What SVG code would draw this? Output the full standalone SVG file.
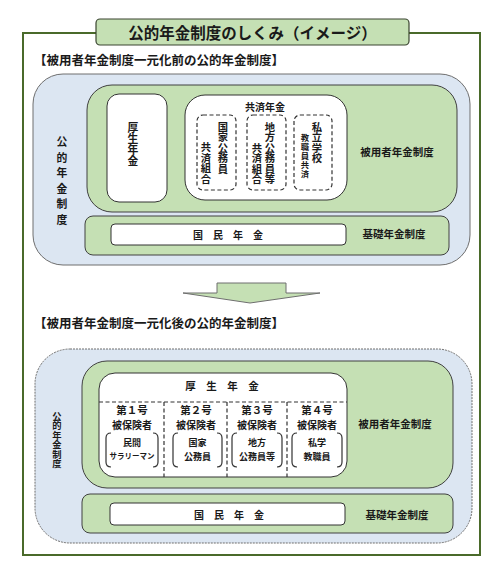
<svg xmlns="http://www.w3.org/2000/svg" width="500" height="582" viewBox="0 0 500 582">
<style>
text{font-family:"Noto Sans CJK JP","Noto Sans CJK SC",sans-serif;font-weight:bold;fill:#1a1a1a;}
.blue{fill:#dce6f2;stroke:#6f6f6f;stroke-width:1;}
.green{fill:#c5e0b4;stroke:#404040;stroke-width:1;}
.white{fill:#ffffff;stroke:#333333;stroke-width:1;}
.dash{fill:none;stroke:#333333;stroke-width:1.2;stroke-dasharray:4 2.5;}
.c{text-anchor:middle;dominant-baseline:central;}
.v{writing-mode:vertical-rl;text-orientation:upright;text-anchor:start;}
.br{fill:none;stroke:#333333;stroke-width:1.2;}
.h1{text-anchor:middle;dominant-baseline:central;font-size:10.5px;}
.h2{text-anchor:middle;dominant-baseline:central;font-size:10px;}
.v11{font-size:10.8px;}
.v10{font-size:10.3px;}
.v8{font-size:8.3px;}
.v9{font-size:9.3px;}
</style>
<rect width="500" height="582" fill="#ffffff"/>
<g id="frame">
<path d="M96,33 H23 V555 H480 V33 H409" fill="none" stroke="#4a6a2a" stroke-width="2"/>
</g>
<g id="title">
<rect x="96" y="19" width="313" height="26" rx="4" fill="#c5e0b4" stroke="#3a4530" stroke-width="1.2"/>
<text class="c" x="252.5" y="32" font-size="15.5">公的年金制度のしくみ（イメージ）</text>
</g>
<text id="subtitle1" x="34" y="65" font-size="12.5">【被用者年金制度一元化前の公的年金制度】</text>
<g id="before">
<rect class="blue" x="33" y="74" width="437" height="191" rx="30"/>
<g id="before-label" class="v v11">
<text class="v" x="62" y="136.6">公</text>
<text class="v" x="62" y="152.1">的</text>
<text class="v" x="62" y="167.6">年</text>
<text class="v" x="62" y="183.1">金</text>
<text class="v" x="62" y="198.6">制</text>
<text class="v" x="62" y="214.1">度</text>
</g>
<g id="before-employee">
<rect class="green" x="87" y="85" width="370" height="127" rx="25"/>
<text class="c" x="397" y="151" font-size="10.5">被用者年金制度</text>
</g>
<g id="before-kosei">
<rect class="white" x="107" y="94" width="60" height="108" rx="12"/>
<g class="v11">
<text class="v" x="133" y="122.6">厚</text>
<text class="v" x="133" y="133.6">生</text>
<text class="v" x="133" y="144.6">年</text>
<text class="v" x="133" y="155.6">金</text>
</g>
</g>
<g id="before-kyosai">
<rect class="white" x="185" y="95" width="162" height="105" rx="20"/>
<text class="c" x="265" y="106" font-size="10">共済年金</text>
<g id="kokka">
<rect class="dash" x="197" y="115" width="39" height="75" rx="6"/>
<g class="v10">
<text class="v" x="223" y="121.85">国</text>
<text class="v" x="223" y="132.35">家</text>
<text class="v" x="223" y="142.85">公</text>
<text class="v" x="223" y="153.35">務</text>
<text class="v" x="223" y="163.85">員</text>
<text class="v" x="206" y="142.35">共</text>
<text class="v" x="206" y="152.85">済</text>
<text class="v" x="206" y="163.35">組</text>
<text class="v" x="206" y="173.85">合</text>
</g>
</g>
<g id="chiho">
<rect class="dash" x="247" y="115" width="39" height="75" rx="6"/>
<g class="v10">
<text class="v" x="270" y="121.85">地</text>
<text class="v" x="270" y="132.35">方</text>
<text class="v" x="270" y="142.85">公</text>
<text class="v" x="270" y="153.35">務</text>
<text class="v" x="270" y="163.85">員</text>
<text class="v" x="270" y="174.35">等</text>
<text class="v" x="257" y="142.85">共</text>
<text class="v" x="257" y="153.35">済</text>
<text class="v" x="257" y="163.85">組</text>
<text class="v" x="257" y="174.35">合</text>
</g>
</g>
<g id="shigaku">
<rect class="dash" x="294" y="115" width="38" height="75" rx="6"/>
<g class="v10">
<text class="v" x="317" y="121.85">私</text>
<text class="v" x="317" y="132.35">立</text>
<text class="v" x="317" y="142.85">学</text>
<text class="v" x="317" y="153.35">校</text>
</g>
<g class="v8">
<text class="v" x="305" y="133.85">教</text>
<text class="v" x="305" y="142.85">職</text>
<text class="v" x="305" y="151.85">員</text>
<text class="v" x="305" y="160.85">共</text>
<text class="v" x="305" y="169.85">済</text>
</g>
</g>
</g>
<g id="before-kiso">
<rect class="green" x="85" y="216" width="364" height="39" rx="8"/>
<rect class="white" x="111" y="224" width="235" height="21" rx="4"/>
<text class="c" x="228" y="234.5" font-size="10" xml:space="preserve">国　民　年　金</text>
<text class="c" x="394" y="233" font-size="10.5">基礎年金制度</text>
</g>
</g>
<g id="connectors">
<polygon points="217,283 286,283 286,293 320,293 250,303 183,293 217,293" fill="#c5e0b4" stroke="#6f6f6f" stroke-width="1"/>
</g>
<text id="subtitle2" x="34" y="328" font-size="12.5">【被用者年金制度一元化後の公的年金制度】</text>
<g id="after">
<rect class="blue" x="35" y="349" width="437" height="194" rx="35" stroke-dasharray="2 1"/>
<g id="after-label" class="v9">
<text class="v" x="57" y="411.35">公</text>
<text class="v" x="57" y="420.85">的</text>
<text class="v" x="57" y="430.35">年</text>
<text class="v" x="57" y="439.85">金</text>
<text class="v" x="57" y="449.35">制</text>
<text class="v" x="57" y="458.85">度</text>
</g>
<g id="after-employee">
<rect class="green" x="82" y="361" width="371" height="127" rx="25"/>
<text class="c" x="395" y="423" font-size="10.5">被用者年金制度</text>
</g>
<g id="after-kosei">
<rect class="white" x="99" y="373" width="248" height="104" rx="16"/>
<text class="c" x="222" y="385" font-size="10.5" xml:space="preserve">厚　生　年　金</text>
<path class="dash" d="M99,402 H347 M164,402 V477 M227,402 V477 M287,402 V477" stroke-dasharray="3 2"/>
</g>
<g id="no1">
<text class="h1" x="132" y="409.5">第１号</text>
<text class="h2" x="132" y="424.5">被保険者</text>
<path class="br" d="M111,433 Q106,433 106,438 V462 Q106,467 111,467 M153,433 Q158,433 158,438 V462 Q158,467 153,467"/>
<text class="c" x="132" y="442" font-size="9">民間</text>
<text class="c" x="132" y="455.5" font-size="7.5">サラリーマン</text>
</g>
<g id="no2">
<text class="h1" x="196" y="409.5">第２号</text>
<text class="h2" x="196" y="424.5">被保険者</text>
<path class="br" d="M178,433 Q173,433 173,438 V462 Q173,467 178,467 M217,433 Q222,433 222,438 V462 Q222,467 217,467"/>
<text class="c" x="197.5" y="442" font-size="9">国家</text>
<text class="c" x="197.5" y="456" font-size="9">公務員</text>
</g>
<g id="no3">
<text class="h1" x="257" y="409.5">第３号</text>
<text class="h2" x="257" y="424.5">被保険者</text>
<path class="br" d="M237,433 Q232,433 232,438 V462 Q232,467 237,467 M277,433 Q282,433 282,438 V462 Q282,467 277,467"/>
<text class="c" x="257" y="442" font-size="9">地方</text>
<text class="c" x="257" y="456" font-size="9">公務員等</text>
</g>
<g id="no4">
<text class="h1" x="317" y="409.5">第４号</text>
<text class="h2" x="317" y="424.5">被保険者</text>
<path class="br" d="M297,433 Q292,433 292,438 V462 Q292,467 297,467 M337,433 Q342,433 342,438 V462 Q342,467 337,467"/>
<text class="c" x="317" y="442" font-size="9">私学</text>
<text class="c" x="317" y="456" font-size="9">教職員</text>
</g>
<g id="after-kiso">
<rect class="green" x="82" y="494" width="371" height="39" rx="8"/>
<rect class="white" x="110" y="503" width="235" height="22" rx="4"/>
<text class="c" x="229" y="514" font-size="10" xml:space="preserve">国　民　年　金</text>
<text class="c" x="397" y="514" font-size="10.5">基礎年金制度</text>
</g>
</g>
</svg>
